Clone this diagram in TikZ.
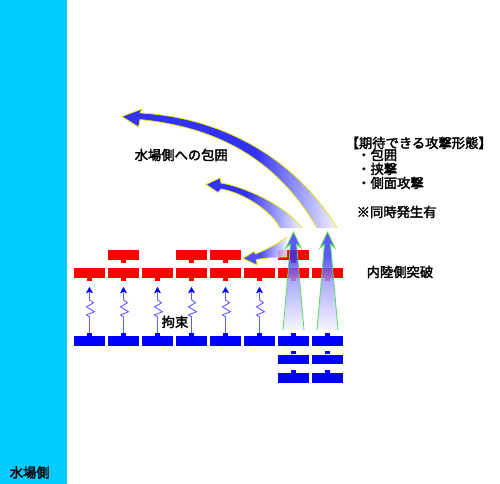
\documentclass[tikz,border=0pt]{standalone}
\usepackage{fontspec}
\newfontfamily\jp{Noto Sans CJK JP}[AutoFakeBold=2.5]
\usetikzlibrary{arrows.meta}
\definecolor{watercyan}{RGB}{0,204,255}
\definecolor{unitred}{RGB}{255,0,0}
\definecolor{unitblue}{RGB}{0,0,255}
\definecolor{arrblue}{RGB}{50,50,255}
\definecolor{zigblue}{RGB}{95,95,255}
\definecolor{edgeyellow}{RGB}{235,235,0}
\definecolor{edgegreen}{RGB}{90,220,90}
\definecolor{paleblue}{RGB}{244,244,255}
\pgfdeclarehorizontalshading{bigfade}{100bp}{color(0bp)=(arrblue); color(25bp)=(arrblue); color(56bp)=(arrblue); color(75bp)=(paleblue); color(100bp)=(paleblue)}
\pgfdeclarehorizontalshading{smallfade}{100bp}{color(0bp)=(arrblue); color(25bp)=(arrblue); color(46bp)=(arrblue); color(75bp)=(paleblue); color(100bp)=(paleblue)}
\pgfdeclarehorizontalshading{tinyfade}{100bp}{color(0bp)=(arrblue); color(25bp)=(arrblue); color(45bp)=(arrblue); color(75bp)=(paleblue); color(100bp)=(paleblue)}
\pgfdeclareverticalshading{upfade}{100bp}{color(0bp)=(paleblue); color(25bp)=(paleblue); color(50bp)=(arrblue!50!white); color(62bp)=(arrblue); color(100bp)=(arrblue)}
\tikzset{
  redunit/.style={rectangle, fill=unitred, inner sep=0pt, minimum width=31bp, minimum height=9.5bp},
  blueunit/.style={rectangle, fill=unitblue, inner sep=0pt, minimum width=31bp, minimum height=9.5bp},
  zig/.style={draw=zigblue, line width=0.9bp, -{Stealth[length=6.5bp,width=7bp,inset=1.5bp,color=unitblue]}},
  yedge/.style={draw=edgeyellow, line width=0.7bp},
  gedge/.style={draw=edgegreen, line width=0.8bp},
  txt/.style={inner sep=0pt, anchor=base west, text=black, font=\jp\bfseries\fontsize{13.3bp}{15bp}\selectfont}
}
\begin{document}
\begin{tikzpicture}[x=1bp,y=-1bp]
\useasboundingbox (0,0) rectangle (500,484);
\fill[white] (0,0) rectangle (500,484);
\fill[watercyan] (0,0) rectangle (67,484);
% red front row and blue front row
\foreach \i in {1,...,8}{
  \pgfmathsetmacro\cx{89.5+34*(\i-1)}
  \node[redunit] (rf\i) at (\cx,272.75) {};
  \fill[unitred] ([xshift=-2.5bp]rf\i.south) rectangle ([xshift=2.5bp,yshift=-3bp]rf\i.south);
  \node[blueunit] (bf\i) at (\cx,340.75) {};
  \fill[unitblue] ([xshift=-2.5bp]bf\i.north) rectangle ([xshift=2.5bp,yshift=3bp]bf\i.north);
}
% red back row
\foreach \i in {2,4,5,7}{
  \pgfmathsetmacro\cx{89.5+34*(\i-1)}
  \node[redunit] (rb\i) at (\cx,254.75) {};
  \fill[unitred] ([xshift=-2.5bp]rb\i.south) rectangle ([xshift=2.5bp,yshift=-3bp]rb\i.south);
}
% blue reserve rows
\foreach \i in {7,8}{
  \pgfmathsetmacro\cx{89.5+34*(\i-1)}
  \node[blueunit] (bs\i) at (\cx,359.25) {};
  \fill[unitblue] ([xshift=-2.5bp]bs\i.north) rectangle ([xshift=2.5bp,yshift=3bp]bs\i.north);
  \node[blueunit] (bt\i) at (\cx,377.75) {};
  \fill[unitblue] ([xshift=-2.5bp]bt\i.north) rectangle ([xshift=2.5bp,yshift=3bp]bt\i.north);
}
% pinning zigzags
\foreach \i in {1,...,6}{
  \draw[zig] ([yshift=3bp]bf\i.north) -- ++(0,-16) -- ++(-3,-2) -- ++(8,-3) -- ++(-8,-5) -- ++(7,-4) -- ++(-4,-3) -- ++(0,-13);
}
% curved envelopment arrows
\shade[shading=bigfade] (317,228) .. controls (280,165) and (225,128) .. (140,119.5) -- (138.5,127) -- (122,116.5) -- (142,109) -- (140,113) .. controls (230,118) and (300,165) .. (337,228) -- cycle;
\draw[yedge] (317,228) .. controls (280,165) and (225,128) .. (140,119.5) -- (138.5,127) -- (122,116.5) -- (142,109) -- (140,113) .. controls (230,118) and (300,165) .. (337,228);
\shade[shading=smallfade] (280,228) .. controls (272,212) and (245,193) .. (221,189) -- (218,192.5) -- (206,184.5) -- (220,178) -- (221,183) .. controls (245,187) and (285,205) .. (302,228) -- cycle;
\draw[yedge] (280,228) .. controls (272,212) and (245,193) .. (221,189) -- (218,192.5) -- (206,184.5) -- (220,178) -- (221,183) .. controls (245,187) and (285,205) .. (302,228);
\shade[shading=tinyfade, fill opacity=0.85] (287,257) .. controls (276,257) and (266,258) .. (256.5,259.5) -- (257,265) -- (243,258.5) -- (254,251.5) -- (255.5,254) .. controls (266,250) and (277,244) .. (287,237) -- cycle;
\draw[yedge] (287,257) .. controls (276,257) and (266,258) .. (256.5,259.5) -- (257,265) -- (243,258.5) -- (254,251.5) -- (255.5,254) .. controls (266,250) and (277,244) .. (287,237);
% breakthrough arrows
\foreach \i in {7,8}{
  \pgfmathsetmacro\cx{89.5+34*(\i-1)}
  \shade[shading=upfade, fill opacity=0.8] (\cx-10.5,330) -- (\cx-3,244) -- (\cx-7.5,248) -- (\cx,232) -- (\cx+7.5,248) -- (\cx+3,244) -- (\cx+10.5,330) -- cycle;
  \draw[gedge] (\cx-10.5,330) -- (\cx-3,244) -- (\cx-7.5,248) -- (\cx,232) -- (\cx+7.5,248) -- (\cx+3,244) -- (\cx+10.5,330);
}
% texts
\node[txt] (envelop) at (134.5,160) {水場側への包囲};
\node[txt] (title) at (345.5,148) {【期待できる攻撃形態】};
\node[txt] (item1) at (357,160) {・包囲};
\node[txt] (item2) at (357,174) {・挟撃};
\node[txt] (item3) at (357,188) {・側面攻撃};
\node[txt] (note) at (356.5,217) {※同時発生有};
\node[txt] (breach) at (366.5,277) {内陸側突破};
\node[txt] (pin) at (161.5,327) {拘束};
\node[txt] (water) at (9.5,477.5) {水場側};
\end{tikzpicture}
\end{document}
